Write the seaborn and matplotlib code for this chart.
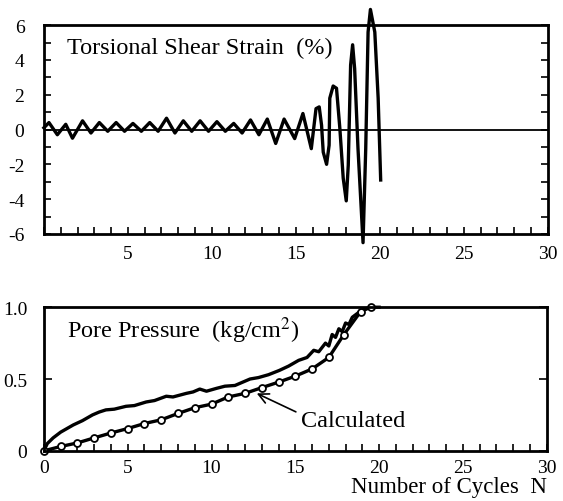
import numpy as np
import pandas as pd
import matplotlib
matplotlib.use("Agg")
import matplotlib.pyplot as plt
import seaborn as sns
from matplotlib.ticker import MultipleLocator, FixedLocator

# torsional shear strain (%) vs number of cycles
strain_n = [0.0, 0.3, 0.8, 1.3, 1.7, 2.3, 2.8, 3.3, 3.8, 4.3, 4.8, 5.3, 5.8, 6.3, 6.8,
            7.3, 7.8, 8.3, 8.8, 9.3, 9.8, 10.3, 10.8, 11.3, 11.8, 12.3, 12.8, 13.3, 13.8,
            14.3, 14.93, 15.42, 15.92, 16.2, 16.39, 16.53, 16.63, 16.83, 16.98, 17.02,
            17.22, 17.42, 17.62, 17.82, 18.0, 18.12, 18.26, 18.38, 18.5, 18.7, 19.0,
            19.16, 19.3, 19.44, 19.7, 19.9, 20.05]
strain_val = [0.1, 0.4, -0.3, 0.3, -0.5, 0.5, -0.2, 0.4, -0.1, 0.4, -0.1, 0.35, -0.1, 0.4, -0.1,
              0.65, -0.2, 0.5, -0.1, 0.5, -0.1, 0.45, -0.1, 0.35, -0.2, 0.55, -0.3, 0.6, -0.8,
              0.6, -0.52, 0.92, -1.1, 1.2, 1.3, 0.25, -1.3, -2.0, -0.9, 1.8,
              2.5, 2.37, 0.06, -2.8, -4.1, -2.05, 3.7, 4.87, 3.5, -1.1, -6.5,
              -1.1, 5.6, 6.9, 5.6, 1.8, -2.9]

# pore pressure (kg/cm2), measured
pore_n = [0.0, 0.2, 0.55, 1.0, 1.75, 2.3, 2.9, 3.3, 3.7, 4.2, 4.9, 5.4, 6.1, 6.6, 7.3, 7.7,
          8.5, 8.9, 9.3, 9.7, 10.3, 10.8, 11.4, 12.3, 12.8, 13.4, 14.05, 14.6, 15.2, 15.7,
          16.1, 16.4, 16.8, 17.0, 17.2, 17.4, 17.6, 17.8, 18.0, 18.2, 18.4, 18.8, 19.2,
          19.6, 20.0]
pore_val = [0.0, 0.05, 0.09, 0.13, 0.18, 0.21, 0.25, 0.27, 0.285, 0.29, 0.31, 0.315, 0.34, 0.35,
            0.38, 0.375, 0.40, 0.41, 0.43, 0.415, 0.435, 0.45, 0.455, 0.50, 0.51, 0.53, 0.56,
            0.59, 0.63, 0.65, 0.70, 0.69, 0.75, 0.73, 0.81, 0.79, 0.85, 0.83, 0.89, 0.88,
            0.93, 0.965, 0.99, 1.0, 1.0]

# pore pressure, calculated
calc_n = [0, 1, 2, 3, 4, 5, 6, 7, 8, 9, 10, 11, 12, 13, 14, 15, 16, 17, 17.9, 18.9, 19.5]
calc_val = [0.0, 0.03, 0.055, 0.09, 0.124, 0.155, 0.19, 0.216, 0.26, 0.30, 0.325, 0.375,
            0.40, 0.44, 0.478, 0.52, 0.57, 0.65, 0.81, 0.97, 1.0]

plt.rcParams['font.family'] = ['Liberation Serif', 'DejaVu Serif']
plt.rcParams['mathtext.fontset'] = 'stix'
plt.rcParams['axes.unicode_minus'] = False

fig = plt.figure(figsize=(5.63, 5.02), dpi=100)
ax1 = fig.add_axes([0.078, 0.532, 0.895, 0.416])
ax2 = fig.add_axes([0.078, 0.100, 0.893, 0.286])

lw = 2.4
txt = 17.5
df1 = pd.DataFrame({'N': strain_n, 'strain': strain_val})
sns.lineplot(data=df1, x='N', y='strain', ax=ax1, color='black', lw=lw, sort=False,
             clip_on=False)
ax1.axhline(0, color='black', lw=1.3)
ax1.set_xlim(0, 30)
ax1.set_ylim(-6, 6)
ax1.xaxis.set_major_locator(FixedLocator([5, 10, 15, 20, 25, 30]))
ax1.xaxis.set_minor_locator(MultipleLocator(1))
ax1.yaxis.set_major_locator(MultipleLocator(2))
ax1.yaxis.set_minor_locator(MultipleLocator(1))
ax1.tick_params(axis='x', which='both', direction='in', length=5, width=1.2, top=False,
                labelsize=14, pad=8)
ax1.tick_params(axis='y', which='both', direction='in', length=5, width=1.2, right=True,
                labelsize=14, pad=14)
ax1.set_xlabel('')
ax1.set_ylabel('')
ax1.text(1.35, 4.7, 'Torsional Shear Strain  (%)', fontsize=txt, va='center')

df_p = pd.DataFrame({'N': pore_n, 'u': pore_val})
df_c = pd.DataFrame({'N': calc_n, 'u': calc_val})
sns.lineplot(data=df_p, x='N', y='u', ax=ax2, color='black', lw=lw, clip_on=False)
sns.lineplot(data=df_c, x='N', y='u', ax=ax2, color='black', lw=lw, clip_on=False,
             marker='o', markersize=5, markerfacecolor='white', markeredgecolor='black',
             markeredgewidth=1.3)
ax2.set_xlim(0, 30)
ax2.set_ylim(0, 1.0)
ax2.xaxis.set_major_locator(MultipleLocator(5))
ax2.xaxis.set_minor_locator(MultipleLocator(1))
ax2.yaxis.set_major_locator(FixedLocator([0, 0.5, 1.0]))
ax2.set_yticklabels(['0', '0.5', '1.0'])
ax2.tick_params(axis='x', which='both', direction='in', length=5, width=1.2, top=False,
                labelsize=14, pad=6)
ax2.tick_params(axis='y', which='both', direction='in', length=6, width=1.2, right=True,
                labelsize=14, pad=12)
ax2.set_xlabel('Number of Cycles  N', fontsize=16.5, loc='right', labelpad=0)
ax2.set_ylabel('')
ax2.text(1.35, 0.84, 'Pore Pressure  (kg/cm$^2$)', fontsize=txt, va='center')
ax2.annotate('Calculated', xy=(12.7, 0.40), xytext=(15.35, 0.21), fontsize=txt,
             va='center', ha='left',
             arrowprops=dict(arrowstyle='->', color='black', lw=1.2,
                             shrinkA=2, shrinkB=0, mutation_scale=18,
                             relpos=(0.0, 0.8)))

for ax in (ax1, ax2):
    for s in ax.spines.values():
        s.set_linewidth(2.0)
        s.set_color('black')
        s.set_visible(True)

fig.savefig('out.png', dpi=100)
